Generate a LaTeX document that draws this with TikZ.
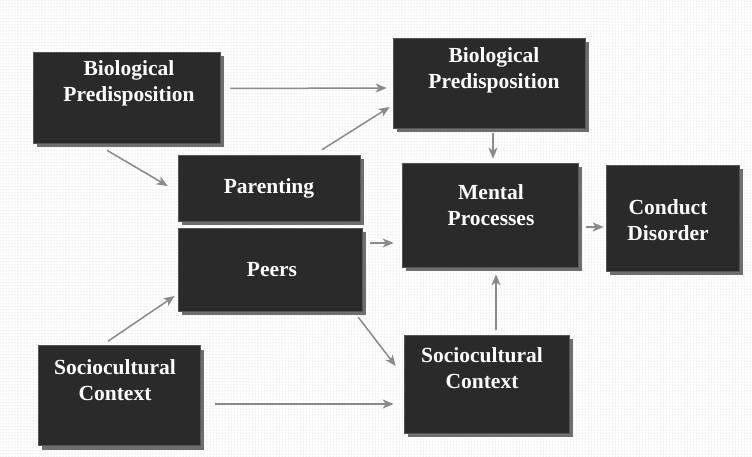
\documentclass[tikz,border=0pt]{standalone}
\usepackage{fontspec}
\setmainfont{Liberation Serif}
\usetikzlibrary{arrows.meta,shadows,patterns}
\definecolor{boxfill}{HTML}{2A2A2A}
\definecolor{boxedge}{HTML}{555555}
\definecolor{shadowc}{HTML}{6E6E6E}
\definecolor{arrowc}{HTML}{8A8A8A}
\begin{document}
\begin{tikzpicture}[x=1pt,y=-1pt,
  darkbox/.style={rectangle, fill=boxfill, draw=boxedge, line width=0.6pt, inner sep=0pt,
    drop shadow={shadow xshift=4pt, shadow yshift=-4pt, fill=shadowc, opacity=1}},
  boxtext/.style={text=white, font=\fontsize{21.5}{26}\selectfont\bfseries, align=center, inner sep=0pt},
  arr/.style={draw=arrowc, line width=1.5pt, -{Stealth[length=11pt,width=9pt,inset=3pt]}}]
\useasboundingbox (0,0) rectangle (752,457);
\fill[white] (0,0) rectangle (752,457);
\fill[pattern=dots, pattern color=gray!45] (0,0) rectangle (752,457);

% boxes
\node[darkbox, minimum width=187pt, minimum height=91pt] (b1) at (126.5,97.5) {};
\node[darkbox, minimum width=182pt, minimum height=66pt] (par) at (269,188) {};
\node[darkbox, minimum width=184pt, minimum height=83pt] (peer) at (270,269.5) {};
\node[darkbox, minimum width=162pt, minimum height=100pt] (s1) at (119,395.5) {};
\node[darkbox, minimum width=192pt, minimum height=90pt] (b2) at (489,83) {};
\node[darkbox, minimum width=176pt, minimum height=104pt] (mp) at (490,215) {};
\node[darkbox, minimum width=133pt, minimum height=106pt] (cd) at (672.5,218) {};
\node[darkbox, minimum width=165pt, minimum height=98pt] (s2) at (486.5,384) {};

% texts
\node[boxtext] (t1) at (129,83) {Biological\\Predisposition};
\node[boxtext] (tpar) at (269,188) {Parenting};
\node[boxtext] (tpeer) at (272,270) {Peers};
\node[boxtext] (ts1) at (115,380) {Sociocultural\\Context};
\node[boxtext] (t2) at (494,70) {Biological\\Predisposition};
\node[boxtext] (tmp) at (491,205) {Mental\\Processes};
\node[boxtext] (tcd) at (668,220) {Conduct\\Disorder};
\node[boxtext] (ts2) at (482,368) {Sociocultural\\Context};

% connectors
\draw[arr] ([shift={(10,-9)}]b1.east) -- ([shift={(-6,5)}]b2.west);
\draw[arr] ([shift={(53,-5)}]par.north) -- ([shift={(-3,24)}]b2.west);
\draw[arr] ([shift={(-19.5,7)}]b1.south) -- ([shift={(-10,-2)}]par.west);
\draw[arr] ([shift={(4,5)}]b2.south) -- ([shift={(3,-4)}]mp.north);
\draw[arr] ([shift={(8,-26.5)}]peer.east) -- ([shift={(-8,28)}]mp.west);
\draw[arr] ([shift={(8,12)}]mp.east) -- ([shift={(-2,9)}]cd.west);
\draw[arr] ([shift={(-4,6)}]peer.south east) -- ([shift={(-8,-18)}]s2.west);
\draw[arr] ([shift={(-11,-4)}]s1.north) -- ([shift={(-3,26.5)}]peer.west);
\draw[arr] ([shift={(15,8.5)}]s1.east) -- ([shift={(-10,20)}]s2.west);
\draw[arr] ([shift={(9.5,-5)}]s2.north) -- ([shift={(6,7)}]mp.south);
\end{tikzpicture}
\end{document}
